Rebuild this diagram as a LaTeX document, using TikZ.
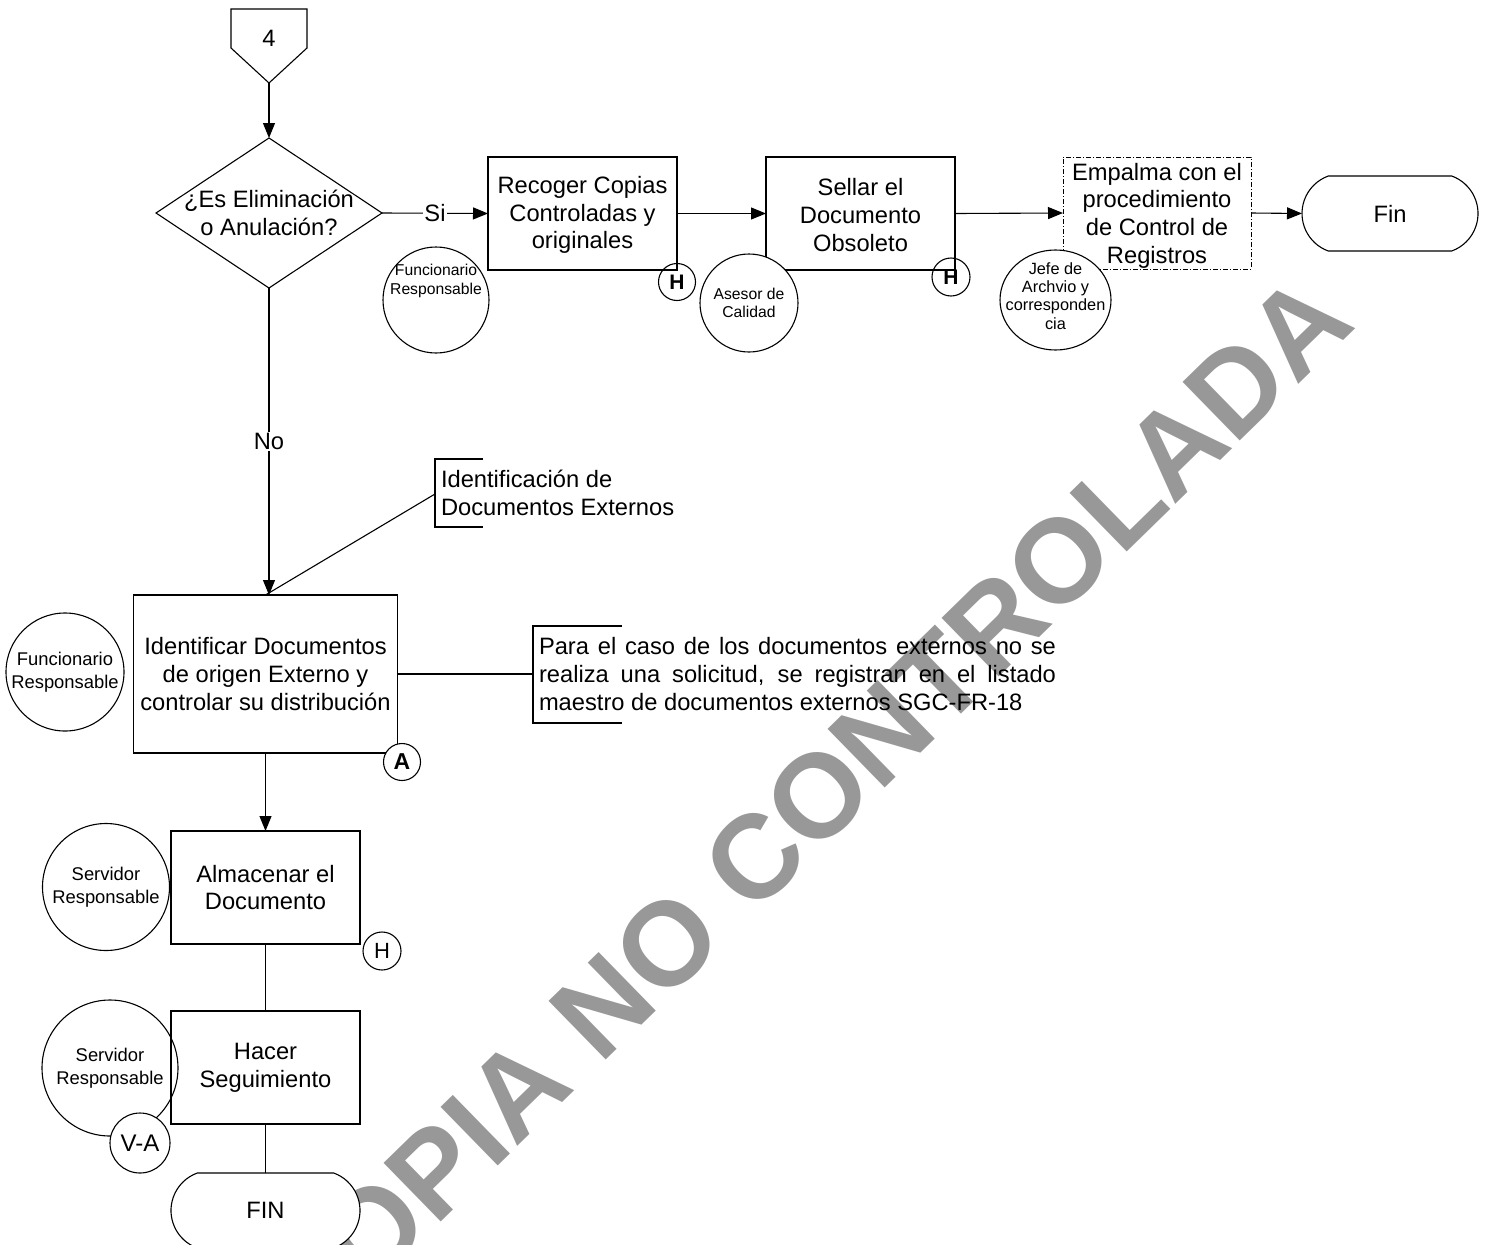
\documentclass[tikz,border=0pt]{standalone}
\usepackage{fontspec}
\setmainfont{Liberation Sans}
\usetikzlibrary{arrows.meta,shapes.geometric,shapes.misc}
\definecolor{wmgray}{RGB}{152,152,152}
\newcommand\fmain{\fontsize{23.7}{27.7}\selectfont}
\newcommand\fsmall{\fontsize{15.7}{18.5}\selectfont}
\newcommand\fmed{\fontsize{18.4}{23}\selectfont}
\newcommand\fjefe{\fontsize{16.3}{18.3}\selectfont}
\newcommand\fHb{\fontsize{21}{21}\selectfont\bfseries}
\newcommand\fHr{\fontsize{22}{22}\selectfont}
\newcommand\fAb{\fontsize{23}{23}\selectfont\bfseries}
\newcommand\fVA{\fontsize{24}{24}\selectfont}
\newcommand\fwm{\fontsize{119}{119}\selectfont\bfseries}
\begin{document}
\begin{tikzpicture}[x=1pt,y=-1pt,line width=1.1pt,
  every node/.style={inner sep=0pt,outer sep=0pt},
  proc/.style={draw,fill=white,minimum width=189pt,minimum height=113pt,align=center,font=\fmain},
  term/.style={draw,fill=white,rounded rectangle,rounded rectangle arc length=140,minimum width=189pt,minimum height=75pt,font=\fmain},
  circ/.style={draw,circle,align=center},
  arr/.style={-{Triangle[length=15pt,width=12pt]}},
  lbl/.style={fill=white,font=\fmain,inner sep=1.5pt}
]
\useasboundingbox (0,0) rectangle (1486,1245);
\fill[white] (0,0) rectangle (1486,1245);

% watermark
\node[rotate=44.3,text=wmgray,font=\fwm] (wm) at (804,810) {COPIA NO CONTROLADA};

% off-page connector
\draw[fill=white] (231,9) -- (307,9) -- (307,48) -- (269,83) -- (231,48) -- cycle;
\node[font=\fmain] (off) at (269,38) {4};
\coordinate (offtip) at (269,83);

% decision
\node[draw,diamond,fill=white,minimum width=226pt,minimum height=150pt] (dec) at (269,213) {};
\node[font=\fmain,align=center] (dect) at (269,213) {¿Es Eliminación\\o Anulación?};

% top row
\node[proc] (rec) at (582.5,213.5) {};
\node[font=\fmain,align=center] (rect) at (582.5,215) {Recoger Copias\\Controladas y\\originales};
\node[proc] (sel) at (860.5,213.5) {};
\node[font=\fmain,align=center] (selt) at (860.5,215) {Sellar el\\Documento\\Obsoleto};
\node[proc,line width=0.8pt,dash pattern=on 5pt off 2pt on 1pt off 2pt,minimum width=188pt,minimum height=112pt] (emp) at (1157,213) {};
\node[font=\fmain,align=center] (empt) at (1157,215.5) {Empalma con el\\procedimiento\\de Control de\\Registros};
\node[term,minimum width=176pt] (fin) at (1390,213.5) {Fin};

\draw[arr] (offtip) -- (dec.north);
\draw[arr] (dec.east) -- node[lbl] (si) {Si} (rec.west);
\draw[arr] (rec.east) -- (sel.west);
\draw[arr] (sel.east) -- (emp.west);
\draw[arr] (emp.east) -- (fin.west);

% top-row circles
\node[circ,minimum size=106pt] (fr1) at (436,300) {};
\node[font=\fsmall,align=center] (fr1t) at (436,281) {Funcionario\\Responsable};
\node[circ,fill=white,minimum size=98pt,font=\fsmall] (ase) at (749,303) {Asesor de\\Calidad};
\node[circ,minimum size=37pt,font=\fHb] (h1) at (677,282) {H};
\node[circ,minimum size=38pt,font=\fHb] (h2) at (951,277) {H};
\node[draw,ellipse,fill=white,minimum width=111pt,minimum height=100pt] (jefe) at (1055.5,300) {};
\node[font=\fjefe,align=center] (jefet) at (1055.5,296) {Jefe de\\Archvio y\\corresponden\\cia};

% identify external documents
\node[proc,minimum width=264pt,minimum height=158pt] (ident) at (265.5,674) {Identificar Documentos\\de origen Externo y\\controlar su distribución};
\draw[arr] (dec.south) -- node[lbl] (no) {No} (dec.south |- ident.north);
\node[circ,minimum size=118pt,font=\fmed] (fr2) at (65,672) {Funcionario\\Responsable};
\node[circ,fill=white,minimum size=37pt,font=\fAb] (a) at (402,762) {A};

% annotation 1
\node[font=\fmain,align=left,anchor=west] (idx) at (441,493) {Identificación de\\Documentos Externos};
\draw (483,459) -- (435,459) -- (435,527) -- (483,527);
\coordinate (idxb) at (435,494);
\draw (idxb) -- (ident.north);

% annotation 2
\node[font=\fmain,align=left,anchor=west] (para) at (539,674) {\makebox[517pt][s]{Para el caso de los documentos externos no se}\\\makebox[517pt][s]{realiza una solicitud, se registran en el listado}\\maestro de documentos externos SGC-FR-18};
\draw (622,626) -- (533,626) -- (533,723) -- (622,723);
\coordinate (parab) at (533,674);
\draw (ident.east) -- (parab);

% store
\node[proc] (alm) at (265.5,887.5) {Almacenar el\\Documento};
\draw[arr] (ident.south) -- (alm.north);
\node[circ,minimum size=127pt,font=\fmed] (sr1) at (106,887) {Servidor\\Responsable};
\node[circ,minimum size=38pt,font=\fHr] (h3) at (382,951) {H};

% follow-up
\node[proc] (hac) at (265.5,1067.5) {Hacer\\Seguimiento};
\draw (alm.south) -- (hac.north);
\node[circ,minimum size=136pt,font=\fmed] (sr2) at (110,1068) {Servidor\\Responsable};
\node[circ,fill=white,minimum size=60pt,font=\fVA] (va) at (140,1143) {V-A};

\node[term] (fin2) at (265.5,1210.5) {FIN};
\draw (hac.south) -- (fin2.north);
\end{tikzpicture}
\end{document}
